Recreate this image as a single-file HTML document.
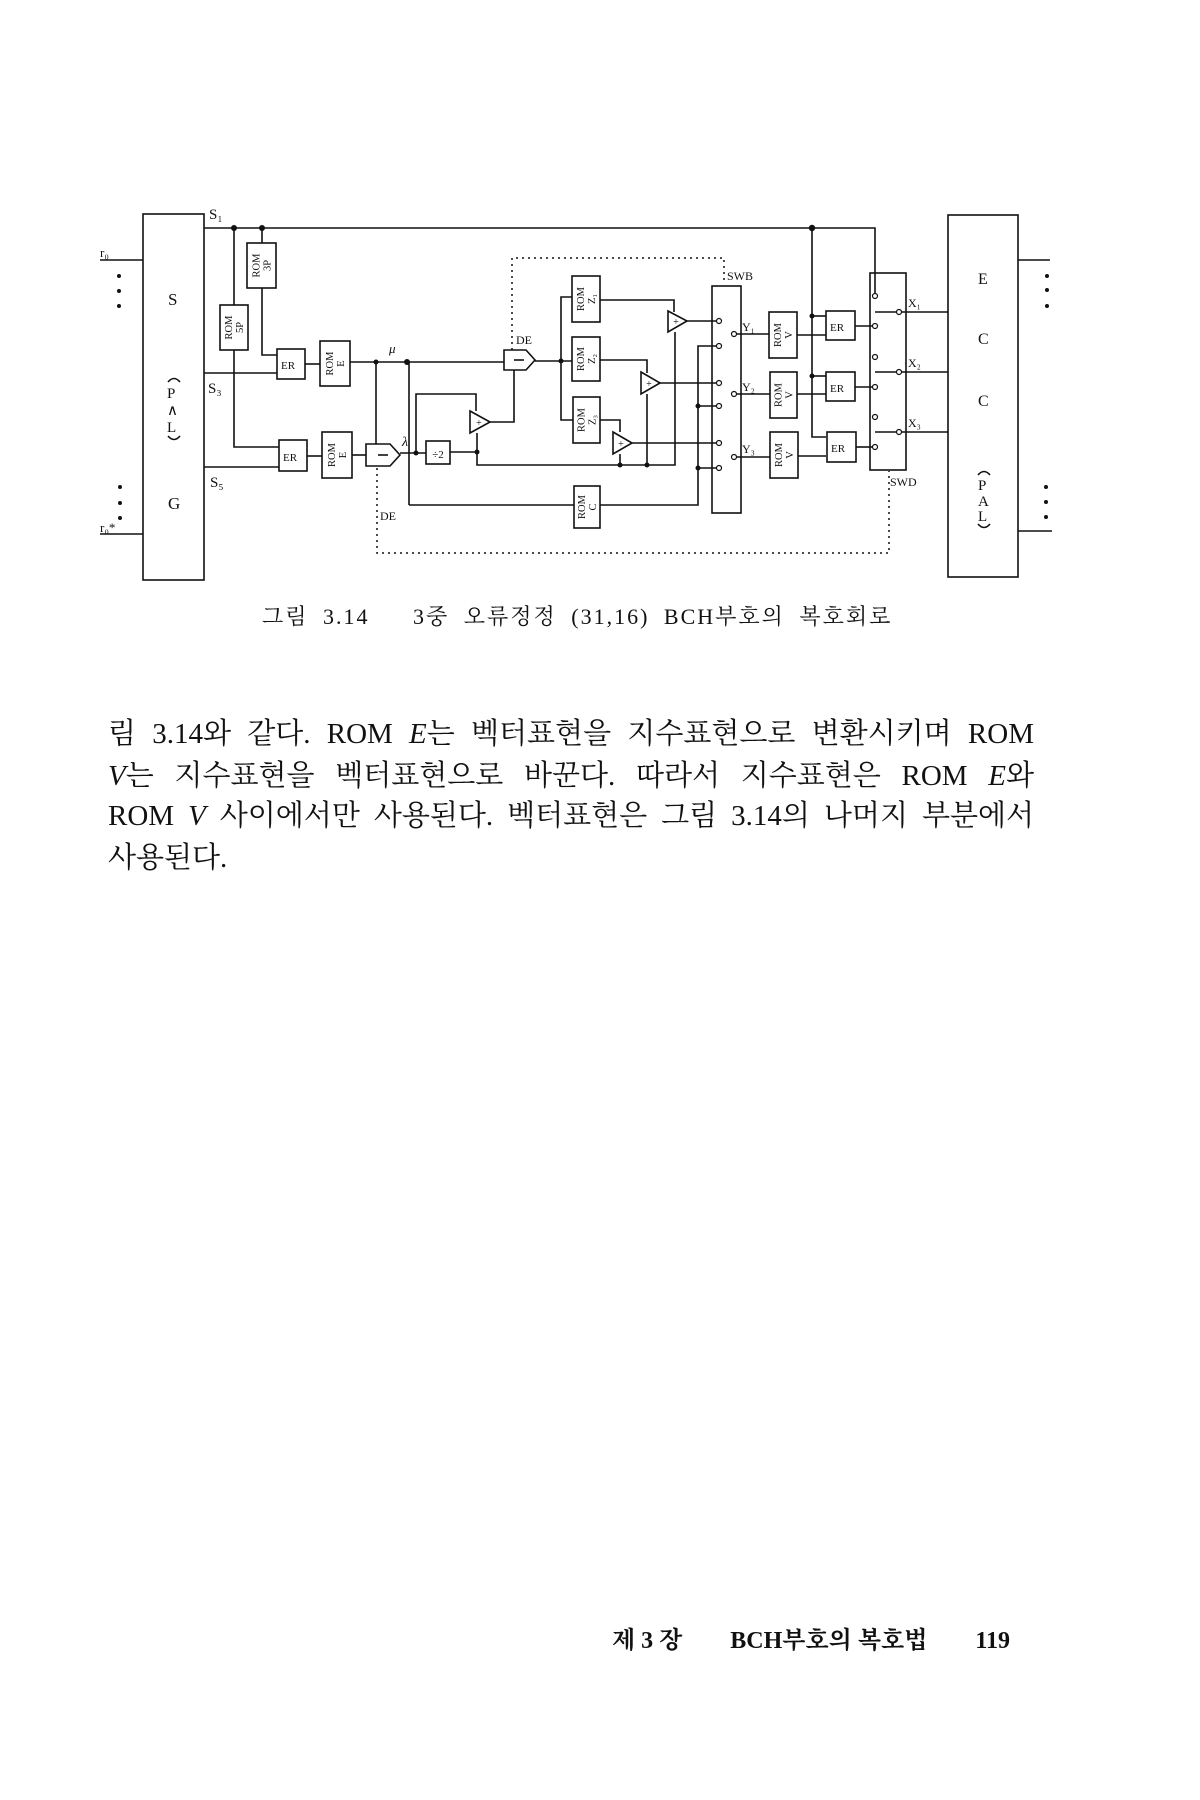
<!DOCTYPE html>
<html><head><meta charset="utf-8">
<style>
html,body{margin:0;padding:0;background:#fff;}
body{width:1200px;height:1800px;position:relative;overflow:hidden;font-family:"Liberation Serif","Noto Serif CJK KR",serif;color:#111;}
svg{position:absolute;left:0;top:0;}
.cap{position:absolute;left:262px;top:600px;font-size:22px;white-space:pre;letter-spacing:2px;word-spacing:7px;}
.ln{position:absolute;left:108px;width:926px;font-size:29px;line-height:36px;text-align:justify;text-align-last:justify;white-space:nowrap;}
.l4{text-align-last:left;}
.foot{position:absolute;left:612px;top:1620px;width:398px;font-size:24px;display:flex;justify-content:space-between;align-items:baseline;white-space:pre;font-weight:bold;}
</style></head><body>
<svg width="1200" height="800" viewBox="0 0 1200 800" font-family="Liberation Serif, serif" fill="none" stroke="#111" stroke-width="1.6">
<rect x="143" y="214" width="61" height="366"/>
<line x1="100" y1="260" x2="143" y2="260"/>
<line x1="100" y1="534" x2="143" y2="534"/>
<g fill="#111" stroke="none">
<circle cx="119" cy="276" r="2"/><circle cx="119" cy="291" r="2"/><circle cx="119" cy="306" r="2"/>
<circle cx="120" cy="487" r="2"/><circle cx="120" cy="503" r="2"/><circle cx="120" cy="518" r="2"/>
<text x="100" y="257" font-size="13">r₀</text>
<text x="100" y="532" font-size="13">r₀*</text>
<text x="168" y="305" font-size="17">S</text>
<text x="168" y="509" font-size="17">G</text>
<text x="167" y="398" font-size="15">P</text>
<text x="167" y="415" font-size="15">∧</text>
<text x="167" y="432" font-size="15">L</text>
<text x="209" y="219" font-size="15">S₁</text>
<text x="208" y="393" font-size="15">S₃</text>
<text x="210" y="487" font-size="15">S₅</text>
</g>
<path d="M168 382 Q174 375 180 382"/><path d="M168 436 Q174 443 180 436"/>
<polyline points="204,228 875,228 875,296"/>
<g fill="#111" stroke="none"><circle cx="234" cy="228" r="3"/><circle cx="262" cy="228" r="3"/><circle cx="812" cy="228" r="3.2"/></g>
<line x1="262" y1="228" x2="262" y2="243"/>
<line x1="234" y1="228" x2="234" y2="305"/>
<rect x="247" y="243" width="29" height="45"/>
<rect x="220" y="305" width="28" height="45"/>
<polyline points="262,288 262,355 277,355"/>
<polyline points="234,350 234,447 279,447"/>
<line x1="204" y1="373" x2="277" y2="373"/>
<line x1="204" y1="467" x2="279" y2="467"/>
<rect x="277" y="349" width="28" height="30"/>
<rect x="279" y="440" width="28" height="31"/>
<rect x="320" y="341" width="30" height="45"/>
<rect x="322" y="432" width="30" height="46"/>
<line x1="305" y1="364" x2="320" y2="364"/>
<line x1="307" y1="456" x2="322" y2="456"/>
<line x1="350" y1="362" x2="504" y2="362"/>
<g fill="#111" stroke="none"><circle cx="376" cy="362" r="2.5"/><circle cx="407" cy="362" r="3"/></g>
<line x1="352" y1="455" x2="366" y2="455"/>
<line x1="376" y1="362" x2="376" y2="444"/>
<path d="M366 444 H390 L400 455 L390 466 H366 Z"/>
<line x1="378" y1="455" x2="388" y2="455"/>
<line x1="400" y1="453" x2="426" y2="453"/>
<g fill="#111" stroke="none"><circle cx="416" cy="453" r="2.5"/><circle cx="477" cy="452" r="2.5"/></g>
<rect x="426" y="441" width="24" height="23"/>
<line x1="450" y1="452" x2="477" y2="452"/>
<polyline points="416,453 416,394 476,394 476,411"/>
<polyline points="477,433 477,465 675,465 675,332"/>
<line x1="409" y1="362" x2="409" y2="505"/>
<line x1="409" y1="505" x2="574" y2="505"/>
<path d="M470 411 L490 422 L470 433 Z"/>
<polyline points="490,422 514,422 514,370"/>
<path d="M504 350 H526 L535 360 L526 370 H504 Z"/>
<line x1="514" y1="360" x2="524" y2="360"/>
<line x1="535" y1="361" x2="572" y2="361"/>
<circle cx="561" cy="361" r="2.5" fill="#111" stroke="none"/>
<polyline points="572,297 561,297 561,420 573,420"/>
<rect x="572" y="276" width="28" height="46"/>
<rect x="572" y="337" width="28" height="44"/>
<rect x="573" y="397" width="27" height="46"/>
<rect x="574" y="486" width="26" height="42"/>
<polyline points="600,300 674,300 674,312"/>
<polyline points="600,360 647,360 647,373"/>
<polyline points="600,420 620,420 620,432"/>
<path d="M668 311 L687 321 L668 332 Z"/>
<path d="M641 372 L660 383 L641 394 Z"/>
<path d="M613 432 L632 443 L613 454 Z"/>
<line x1="647" y1="394" x2="647" y2="465"/>
<line x1="620" y1="454" x2="620" y2="465"/>
<g fill="#111" stroke="none"><circle cx="620" cy="465" r="2.5"/><circle cx="647" cy="465" r="2.5"/></g>
<line x1="687" y1="321" x2="716" y2="321"/>
<line x1="660" y1="383" x2="716" y2="383"/>
<line x1="632" y1="443" x2="716" y2="443"/>
<polyline points="716,346 698,346 698,505 600,505"/>
<line x1="698" y1="406" x2="716" y2="406"/>
<line x1="698" y1="468" x2="716" y2="468"/>
<g fill="#111" stroke="none"><circle cx="698" cy="406" r="2.5"/><circle cx="698" cy="468" r="2.5"/></g>
<rect x="712" y="286" width="29" height="227"/>
<g stroke-width="1.2" fill="#fff">
<circle cx="719" cy="321" r="2.5"/><circle cx="719" cy="346" r="2.5"/><circle cx="719" cy="383" r="2.5"/>
<circle cx="719" cy="406" r="2.5"/><circle cx="719" cy="443" r="2.5"/><circle cx="719" cy="468" r="2.5"/>
<circle cx="734" cy="334" r="2.5"/><circle cx="734" cy="394" r="2.5"/><circle cx="734" cy="457" r="2.5"/>
</g>
<line x1="737" y1="334" x2="769" y2="334"/>
<line x1="737" y1="394" x2="770" y2="394"/>
<line x1="737" y1="457" x2="770" y2="457"/>
<rect x="769" y="312" width="28" height="46"/>
<rect x="770" y="372" width="27" height="46"/>
<rect x="770" y="432" width="28" height="46"/>
<line x1="797" y1="335" x2="826" y2="335"/>
<line x1="797" y1="394" x2="826" y2="394"/>
<line x1="798" y1="456" x2="826" y2="456"/>
<polyline points="812,228 812,437 826,437"/>
<line x1="812" y1="316" x2="826" y2="316"/>
<line x1="812" y1="376" x2="826" y2="376"/>
<g fill="#111" stroke="none"><circle cx="812" cy="316" r="2.5"/><circle cx="812" cy="376" r="2.5"/></g>
<rect x="826" y="311" width="29" height="29"/>
<rect x="826" y="372" width="29" height="29"/>
<rect x="827" y="432" width="29" height="30"/>
<line x1="855" y1="326" x2="872" y2="326"/>
<line x1="855" y1="387" x2="872" y2="387"/>
<line x1="856" y1="447" x2="872" y2="447"/>
<rect x="870" y="273" width="36" height="197"/>
<line x1="875" y1="312" x2="948" y2="312"/>
<line x1="875" y1="372" x2="948" y2="372"/>
<line x1="875" y1="432" x2="948" y2="432"/>
<g stroke-width="1.2" fill="#fff">
<circle cx="875" cy="296" r="2.5"/><circle cx="875" cy="326" r="2.5"/><circle cx="875" cy="357" r="2.5"/>
<circle cx="875" cy="387" r="2.5"/><circle cx="875" cy="417" r="2.5"/><circle cx="875" cy="447" r="2.5"/>
<circle cx="899" cy="312" r="2.5"/><circle cx="899" cy="372" r="2.5"/><circle cx="899" cy="432" r="2.5"/>
</g>
<rect x="948" y="215" width="70" height="362"/>
<line x1="1018" y1="260" x2="1050" y2="260"/>
<line x1="1018" y1="531" x2="1052" y2="531"/>
<g fill="#111" stroke="none">
<circle cx="1047" cy="276" r="2"/><circle cx="1047" cy="290" r="2"/><circle cx="1047" cy="306" r="2"/>
<circle cx="1046" cy="487" r="2"/><circle cx="1046" cy="502" r="2"/><circle cx="1046" cy="517" r="2"/>
<text x="978" y="284" font-size="16">E</text>
<text x="978" y="344" font-size="16">C</text>
<text x="978" y="406" font-size="16">C</text>
<text x="978" y="490" font-size="15">P</text>
<text x="978" y="506" font-size="15">A</text>
<text x="978" y="521" font-size="15">L</text>
</g>
<path d="M978 475 Q984 468 990 475"/><path d="M978 524 Q984 531 990 524"/>
<g stroke-dasharray="2,4" stroke-width="1.5">
<polyline points="512,350 512,258 724,258 724,284"/>
<polyline points="377,468 377,553 889,553 889,471"/>
</g>
<g fill="#111" stroke="none" font-size="12">
<text x="389" y="353" font-size="13" font-style="italic">μ</text>
<text x="402" y="446" font-size="14" font-style="italic">λ</text>
<text x="516" y="344">DE</text>
<text x="380" y="520">DE</text>
<text x="727" y="280">SWB</text>
<text x="890" y="486">SWD</text>
<text x="742" y="331">Y₁</text>
<text x="742" y="391">Y₂</text>
<text x="742" y="453">Y₃</text>
<text x="908" y="307">X₁</text>
<text x="908" y="367">X₂</text>
<text x="908" y="427">X₃</text>
<text x="281" y="369" font-size="11">ER</text>
<text x="283" y="461" font-size="11">ER</text>
<text x="830" y="331" font-size="11">ER</text>
<text x="830" y="392" font-size="11">ER</text>
<text x="831" y="452" font-size="11">ER</text>
<text x="438" y="458" font-size="11" text-anchor="middle">÷2</text>
<text x="479" y="426" font-size="10" text-anchor="middle">+</text>
<text x="676" y="325" font-size="10" text-anchor="middle">+</text>
<text x="649" y="387" font-size="10" text-anchor="middle">+</text>
<text x="621" y="447" font-size="10" text-anchor="middle">+</text>
</g>
<g fill="#111" stroke="none" font-size="10.5" text-anchor="middle">
<g transform="translate(261.5,265.5) rotate(-90)"><text y="-2">ROM</text><text y="9">3P</text></g>
<g transform="translate(234,327.5) rotate(-90)"><text y="-2">ROM</text><text y="9">5P</text></g>
<g transform="translate(335,363.5) rotate(-90)"><text y="-2">ROM</text><text y="9">E</text></g>
<g transform="translate(337,455) rotate(-90)"><text y="-2">ROM</text><text y="9">E</text></g>
<g transform="translate(586,299) rotate(-90)"><text y="-2">ROM</text><text y="9">Z₁</text></g>
<g transform="translate(586,359) rotate(-90)"><text y="-2">ROM</text><text y="9">Z₂</text></g>
<g transform="translate(586.5,420) rotate(-90)"><text y="-2">ROM</text><text y="9">Z₃</text></g>
<g transform="translate(587,507) rotate(-90)"><text y="-2">ROM</text><text y="9">C</text></g>
<g transform="translate(783,335) rotate(-90)"><text y="-2">ROM</text><text y="9">V</text></g>
<g transform="translate(783.5,395) rotate(-90)"><text y="-2">ROM</text><text y="9">V</text></g>
<g transform="translate(784,455) rotate(-90)"><text y="-2">ROM</text><text y="9">V</text></g>
</g>
</svg>
<div class="cap">그림 3.14   3중 오류정정 (31,16) BCH부호의 복호회로</div>
<div class="ln" style="top:716px">림 3.14와 같다. ROM <i>E</i>는 벡터표현을 지수표현으로 변환시키며 ROM</div>
<div class="ln" style="top:758px"><i>V</i>는 지수표현을 벡터표현으로 바꾼다. 따라서 지수표현은 ROM <i>E</i>와</div>
<div class="ln" style="top:798px">ROM <i>V</i> 사이에서만 사용된다. 벡터표현은 그림 3.14의 나머지 부분에서</div>
<div class="ln l4" style="top:840px">사용된다.</div>
<div class="foot"><span>제 3 장</span><span>BCH부호의 복호법</span><span>119</span></div>
</body></html>
